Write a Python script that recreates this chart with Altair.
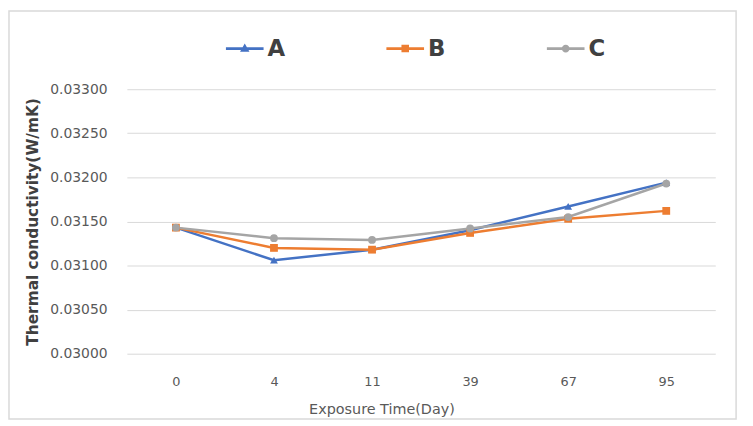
import altair as alt
import pandas as pd

days = ["0", "4", "11", "39", "67", "95"]
series_a = [0.03143, 0.03106, 0.03118, 0.03140, 0.03167, 0.03194]
series_b = [0.03143, 0.03120, 0.03118, 0.03137, 0.03153, 0.03162]
series_c = [0.03143, 0.03131, 0.03129, 0.03142, 0.03155, 0.03193]
series_names = ["A", "B", "C"]
y_ticks = [0.0300, 0.0305, 0.0310, 0.0315, 0.0320, 0.0325, 0.0330]

rows = []
for name, vals in zip(series_names, [series_a, series_b, series_c]):
    for d, v in zip(days, vals):
        rows.append({"day": d, "value": v, "series": name})
df = pd.DataFrame(rows)
legend_df = pd.DataFrame({"series": series_names})

font = "DejaVu Sans"
colors = ["#4472C4", "#ED7D31", "#A5A5A5"]
color_scale = alt.Scale(domain=series_names, range=colors)
shape_scale = alt.Scale(domain=series_names, range=["triangle-up", "square", "circle"])

# legend glyphs: a line with the marker on it
bar = "M-1,-0.075H1V0.075H-1Z"
legend_paths = [
    bar + "M0,-0.27L0.25,0.17L-0.25,0.17Z",
    bar + "M-0.2,-0.2H0.2V0.2H-0.2Z",
    bar + "M-0.21,0a0.21,0.21 0 1,1 0.42,0a0.21,0.21 0 1,1 -0.42,0Z",
]
legend_shape_scale = alt.Scale(domain=series_names, range=legend_paths)

x_enc = alt.X("day:O", sort=days, scale=alt.Scale(type="point", padding=0.5),
              axis=alt.Axis(title="Exposure Time(Day)", labelAngle=0, ticks=False, domain=False,
                            grid=False, labelPadding=22, titlePadding=14, labelFontSize=13,
                            titleFontSize=14.5, titleFontWeight="normal", labelColor="#595959",
                            titleColor="#595959", labelFont=font, titleFont=font,
                            titleX=257, titleAlign="center"))
y_enc = alt.Y("value:Q", scale=alt.Scale(domain=[0.030, 0.033], zero=False, nice=False),
              axis=alt.Axis(title="Thermal conductivity(W/mK)", values=y_ticks, format=".5f",
                            ticks=False, domain=False, gridColor="#d9d9d9", labelPadding=20,
                            titlePadding=9, labelFontSize=14, titleFontSize=15.5,
                            titleFontWeight="bold", labelColor="#595959", titleColor="#404040",
                            labelFont=font, titleFont=font))

base = alt.Chart(df).encode(
    x=x_enc, y=y_enc,
    color=alt.Color("series:N", scale=color_scale, legend=None),
    shape=alt.Shape("series:N", scale=shape_scale, legend=None),
)
lines = base.mark_line(strokeWidth=2.5)
points = base.mark_point(filled=True, size=62, opacity=1)

legend_props = dict(title=None, orient="none", direction="horizontal",
                    legendX=100, legendY=-60, padding=0,
                    labelFontSize=23, labelFontWeight="bold",
                    labelColor="#404040", labelFont=font,
                    symbolSize=1444, symbolOpacity=1, symbolStrokeWidth=0,
                    columnPadding=102, labelOffset=4)
legend_layer = alt.Chart(legend_df).mark_point(filled=True, opacity=0).encode(
    color=alt.Color("series:N", scale=color_scale, legend=alt.Legend(**legend_props)),
    shape=alt.Shape("series:N", scale=legend_shape_scale, legend=alt.Legend(**legend_props)),
)

frame = alt.Chart(pd.DataFrame({"k": [0]})).mark_rect(
    fill=None, stroke="#d9d9d9", strokeWidth=1.5, clip=False
).encode(x=alt.value(-119), x2=alt.value(615), y=alt.value(-79), y2=alt.value(333))

chart = alt.layer(frame, lines, points, legend_layer).resolve_scale(
    color="independent", shape="independent"
).properties(
    width=594, height=267, background="white",
    autosize=alt.AutoSizeParams(type="none"),
    padding={"left": 120, "top": 80, "right": 30, "bottom": 70},
).configure_view(stroke="transparent", strokeWidth=0)

chart.save("out.html", embed_options={"renderer": "svg", "actions": False})
